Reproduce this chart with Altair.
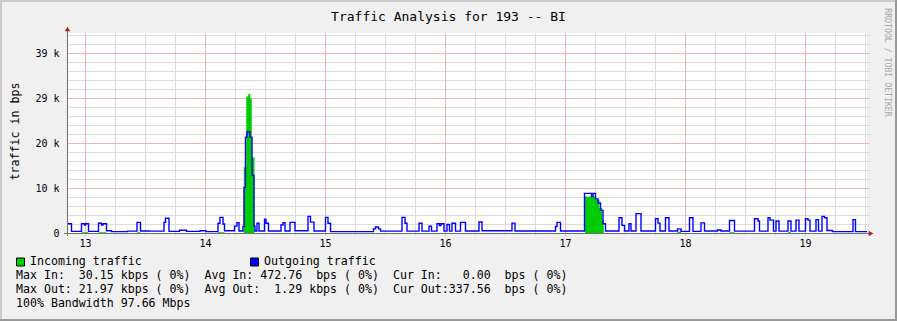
import altair as alt
import pandas as pd

# ---- data (hours since day 13, 00:00) ----
out_hours = [-3.6, -2.7, -0.7, -0.1, 0.1, 0.7, 2.7, 3.3, 3.6, 4.3, 5.3, 8.5, 10.4, 11.1, 12.9,
             15.8, 16.1, 16.8, 18.9, 20.3, 23.0, 24.2, 26.6, 27.0, 27.6, 27.9, 29.9, 30.4, 30.8,
             31.6, 31.8, 32.1, 32.4, 33.0, 33.4, 33.8, 34.0, 34.4, 34.8, 35.9, 36.2, 36.7, 39.2,
             39.6, 40.0, 41.0, 42.0, 44.6, 45.1, 45.8, 48.1, 48.6, 49.1, 57.7, 58.1, 58.7, 59.1,
             63.4, 64.0, 64.4, 66.8, 67.4, 68.8, 69.3, 70.4, 70.9, 71.2, 71.8, 72.4, 72.9, 73.4,
             74.1, 75.1, 76.1, 78.8, 79.4, 85.4, 86.0, 94.1, 94.4, 95.1, 99.9, 101.3, 101.6,
             102.1, 102.6, 103.1, 103.6, 104.1, 106.8, 107.4, 107.9, 108.8, 109.2, 110.2, 111.2,
             114.1, 114.6, 115.0, 116.1, 116.8, 118.5, 119.2, 120.9, 121.6, 123.2, 123.9, 126.5,
             127.2, 128.9, 129.9, 133.9, 134.6, 134.9, 136.6, 137.0, 137.7, 138.2, 138.8, 140.6,
             141.2, 142.2, 142.8, 144.1, 144.6, 145.0, 146.2, 146.7, 147.4, 147.9, 148.4, 149.5,
             153.6, 154.1, 156.4]
out_bps = [2000, 350, 2000, 1700, 2000, 350, 2100, 1700, 2000, 500, 300, 400, 2300, 450, 400,
           2300, 3200, 350, 600, 350, 500, 290, 2100, 3400, 1950, 500, 1500, 2250, 450,
           1400, 9900, 20800, 21970, 20800, 12500, 1500, 450, 2100, 450, 3000, 2100, 450, 1750,
           2250, 450, 2300, 500, 3600, 2350, 450, 3400, 2100, 300, 900, 1300, 900, 400,
           3400, 2100, 400, 2100, 400, 1450, 400, 2000, 1600, 2000, 400, 1850, 400, 2100,
           400, 2300, 450, 2400, 500, 2150, 450, 1400, 2300, 450, 8600, 7900, 8600,
           7400, 6500, 4900, 2000, 450, 3300, 1650, 450, 2000, 450, 4200, 450,
           3100, 2150, 450, 3300, 450, 900, 350, 3300, 350, 2200, 450, 650,
           450, 2700, 400, 3100, 2600, 400, 3300, 2800, 400, 2600, 400, 2600,
           400, 2800, 400, 3100, 2800, 400, 2900, 400, 3600, 3300, 550, 300,
           2900, 300, 300]

in_hours = [-3.6, -0.7, 0.7, 2.7, 4.3, 10.4, 11.1, 26.6, 27.9, 31.75, 32.25, 32.65, 33.05,
            33.35, 33.9, 100.0, 102.2, 102.9, 103.45, 103.75, 118.5, 119.2, 128.9, 129.9,
            140.6, 141.2, 156.4]
in_bps = [0, 150, 0, 150, 0, 150, 0, 150, 0, 14300, 29600, 30150, 29200,
          16400, 0, 7900, 7200, 5400, 2800, 0, 250, 0, 150, 0,
          150, 0, 0]

# grid / tick positions and labels
x_minor_hours = [6, 12, 18, 30, 36, 42, 54, 60, 66, 78, 84, 90, 102, 108, 114,
                 126, 132, 138, 150, 156]
x_major_hours = [0, 24, 48, 72, 96, 120, 144]
x_labels = ["13", "14", "15", "16", "17", "18", "19"]
y_minor = [1953.125, 3906.25, 5859.375, 7812.5, 11718.75, 13671.875, 15625, 17578.125,
           21484.375, 23437.5, 25390.625, 27343.75, 31250, 33203.125, 35156.25, 37109.375,
           41015.625, 42968.75]
y_major = [0, 9765.625, 19531.25, 29296.875, 39062.5]
y_labels = ["0", "10 k", "20 k", "29 k", "39 k"]

title_text = "Traffic Analysis for 193 -- BI"
y_title = "traffic in bps"
watermark = "RRDTOOL / TOBI OETIKER"
legend_in = "Incoming traffic"
legend_out = "Outgoing traffic"
stat_lines = [
    "Max In:  30.15 kbps ( 0%)  Avg In: 472.76  bps ( 0%)  Cur In:   0.00  bps ( 0%)",
    "Max Out: 21.97 kbps ( 0%)  Avg Out:  1.29 kbps ( 0%)  Cur Out:337.56  bps ( 0%)",
    "100% Bandwidth 97.66 Mbps",
]

NB = "\u00a0"
def nb(s):
    return s.replace(" ", NB)

FONT = "DejaVu Sans Mono"
W, H = 800, 200
PAD_L, PAD_T = 67, 33
MINOR_C = "#dcdcdc"
MAJOR_C = "#f2b4b4"

out_df = pd.DataFrame({"h": out_hours, "bps": out_bps})
in_df = pd.DataFrame({"h": in_hours, "bps": in_bps})
one = pd.DataFrame({"k": [0]})

xscale = alt.Scale(domain=[-3.6, 156.4], nice=False, zero=False)
yscale = alt.Scale(domain=[0, 43402.8], nice=False, zero=False)

def X(field="h"):
    return alt.X(f"{field}:Q", scale=xscale, axis=None)

def Y(field="bps"):
    return alt.Y(f"{field}:Q", scale=yscale, axis=None)

def vgrid(vals, color):
    return alt.Chart(pd.DataFrame({"gx": vals})).mark_rule(color=color, strokeWidth=1, xOffset=0.5).encode(
        x=X("gx"), y=alt.value(0), y2=alt.value(H + 3))

def hgrid(vals, color):
    return alt.Chart(pd.DataFrame({"gy": vals})).mark_rule(color=color, strokeWidth=1, yOffset=0.5).encode(
        y=Y("gy"), x=alt.value(0), x2=alt.value(W + 3))

area = alt.Chart(in_df).mark_area(interpolate="step-after", color="#00cc00", opacity=1).encode(
    x=X(), y=Y())
line = alt.Chart(out_df).mark_line(interpolate="step-after", color="#0000ff", strokeWidth=1.4).encode(
    x=X(), y=Y())

xlab = alt.Chart(pd.DataFrame({"lx": x_major_hours, "t": x_labels})).mark_text(
    font=FONT, fontSize=10, color="#000000", align="center", baseline="middle", dx=0.5).encode(
    x=X("lx"), y=alt.value(H + 10.5), text="t:N")
ylab = alt.Chart(pd.DataFrame({"ly": y_major, "t": y_labels})).mark_text(
    font=FONT, fontSize=10, color="#000000", align="right", baseline="middle", dy=0.5).encode(
    y=Y("ly"), x=alt.value(-7.5), text="t:N")

def rule(x, y, x2=None, y2=None, color="#666666", width=1):
    enc = {"x": alt.value(x), "y": alt.value(y)}
    if x2 is not None:
        enc["x2"] = alt.value(x2)
    if y2 is not None:
        enc["y2"] = alt.value(y2)
    return alt.Chart(one).mark_rule(color=color, strokeWidth=width).encode(**enc)

def text(s, x, y, size, align="left", angle=0, color="#000000"):
    return alt.Chart(one).mark_text(align=align, baseline="middle", font=FONT, fontSize=size,
                                    color=color, angle=angle).encode(
        x=alt.value(x), y=alt.value(y), text=alt.value(nb(s)))

layers = [
    vgrid(x_minor_hours, MINOR_C), hgrid(y_minor, MINOR_C),
    vgrid(x_major_hours, MAJOR_C), hgrid(y_major[1:], MAJOR_C),
    area, line, xlab, ylab,
]
# axis lines and arrows
layers.append(rule(0.5, -4, y2=H + 3, color="#707070"))
layers.append(rule(-3, H + 0.5, x2=W + 4, color="#707070"))
layers.append(alt.Chart(one).mark_point(shape="triangle-up", filled=True, size=30, color="#a02828", opacity=1)
              .encode(x=alt.value(0.5), y=alt.value(-4)))
layers.append(alt.Chart(one).mark_point(shape="triangle-right", filled=True, size=30, color="#a02828", opacity=1)
              .encode(x=alt.value(W + 4), y=alt.value(H + 0.5)))
# frame
layers.append(rule(-PAD_L, -PAD_T + 1, x2=897 - PAD_L, color="#cbcbcb", width=2))
layers.append(rule(-PAD_L + 1, -PAD_T, y2=321 - PAD_T, color="#cbcbcb", width=2))
layers.append(rule(-PAD_L, 321 - PAD_T - 1, x2=897 - PAD_L, color="#999999", width=2))
layers.append(rule(897 - PAD_L - 1, -PAD_T, y2=321 - PAD_T, color="#999999", width=2))
# texts
layers.append(text(title_text, 448.5 - PAD_L, 17 - PAD_T, 13, align="center"))
layers.append(text(y_title, 15.5 - PAD_L, 131.5 - PAD_T, 11.6, align="center", angle=270))
layers.append(text(watermark, 886.5 - PAD_L, 62.5 - PAD_T, 8.2, align="center", angle=90, color="#a8a8a8"))
# legend
layers.append(alt.Chart(one).mark_square(size=64, color="#00cc00", stroke="#000000", strokeWidth=1, opacity=1)
              .encode(x=alt.value(20.5 - PAD_L), y=alt.value(262 - PAD_T)))
layers.append(alt.Chart(one).mark_square(size=64, color="#0000ff", stroke="#000000", strokeWidth=1, opacity=1)
              .encode(x=alt.value(254.5 - PAD_L), y=alt.value(262 - PAD_T)))
layers.append(text(legend_in, 30 - PAD_L, 261.5 - PAD_T, 11.6))
layers.append(text(legend_out, 264 - PAD_L, 261.5 - PAD_T, 11.6))
for i, s in enumerate(stat_lines):
    layers.append(text(s, 16 - PAD_L, 275.5 + 14 * i - PAD_T, 11.6))

chart = alt.layer(*layers).properties(
    width=W, height=H,
    autosize=alt.AutoSizeParams(type="none"),
    padding={"left": PAD_L, "top": PAD_T, "right": 897 - PAD_L - W, "bottom": 321 - PAD_T - H},
    background="#f0f0f0",
).configure_view(fill="#ffffff", strokeWidth=0)

chart.save("out.html", embed_options={"renderer": "svg", "actions": False})
